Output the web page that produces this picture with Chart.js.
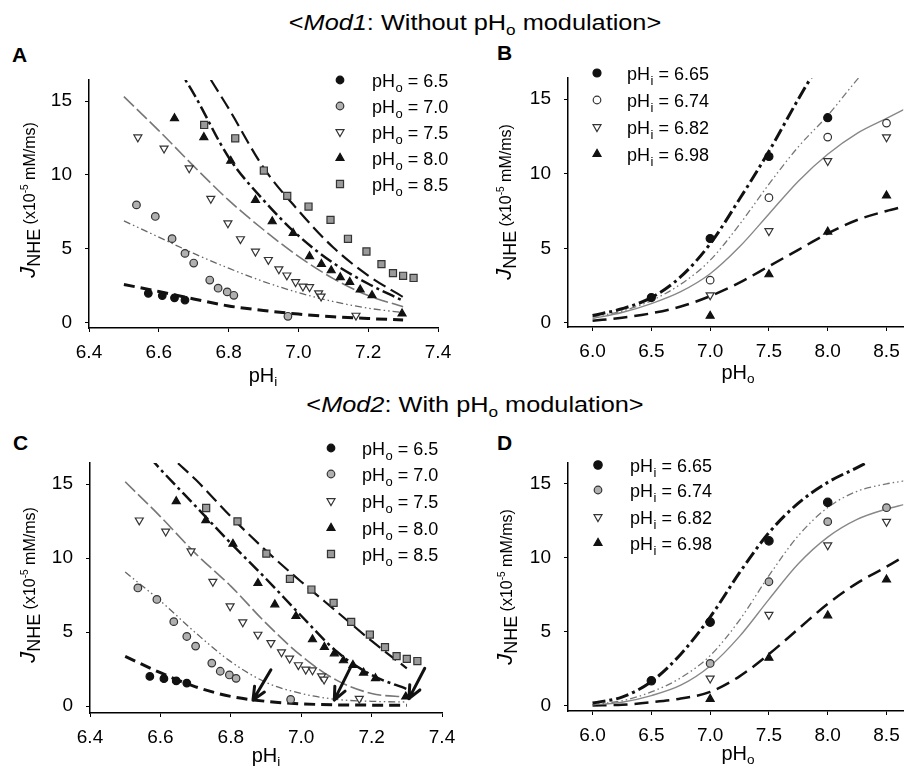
<!DOCTYPE html>
<html><head><meta charset="utf-8">
<script src="https://cdn.jsdelivr.net/npm/chart.js@4.4.1/dist/chart.umd.min.js"></script>
<style>
html,body{margin:0;padding:0;background:#fff;}
#wrap{position:relative;width:909px;height:770px;overflow:hidden;font-family:'Liberation Sans',Arial,sans-serif;color:#000;background:#fff;}
canvas{position:absolute;}
.t{position:absolute;white-space:nowrap;line-height:1;z-index:5;}
.title{font-size:22px;transform:translateX(-50%) scaleX(1.15);}
.s{font-size:0.68em;position:relative;top:0.32em;}
.xt{font-size:20px;transform:translateX(-50%);}
.lab{font-size:21px;font-weight:bold;}
.yt{transform:translate(-50%,-50%) rotate(-90deg);}
</style>
</head><body>
<div id="wrap">
<canvas id="cA" width="430" height="330" style="left:40px;top:60px"></canvas>
<canvas id="cB" width="394" height="330" style="left:515px;top:60px"></canvas>
<canvas id="cC" width="430" height="330" style="left:40px;top:440px"></canvas>
<canvas id="cD" width="394" height="330" style="left:515px;top:440px"></canvas>

<div class="t title" style="left:475px;top:12px">&lt;<i>Mod1</i>: Without pH<span class="s">o</span> modulation&gt;</div>
<div class="t title" style="left:475px;top:394px">&lt;<i>Mod2</i>: With pH<span class="s">o</span> modulation&gt;</div>

<div class="t lab" style="left:12px;top:44px">A</div>
<div class="t lab" style="left:497px;top:42px">B</div>
<div class="t lab" style="left:13px;top:432px">C</div>
<div class="t lab" style="left:497px;top:432px">D</div>

<div class="t xt" style="left:263px;top:365px">pH<span class="s">i</span></div>
<div class="t xt" style="left:738px;top:362px">pH<span class="s">o</span></div>
<div class="t xt" style="left:266px;top:745px">pH<span class="s">i</span></div>
<div class="t xt" style="left:738px;top:743px">pH<span class="s">o</span></div>

<div class="t yt" style="left:28px;top:200px"><i style="font-size:22px">J</i><span style="font-size:18px;position:relative;top:5px">NHE</span><span style="font-size:16px"> (x10<span style="font-size:10px;position:relative;top:-7px">-5</span> mM/ms)</span></div>
<div class="t yt" style="left:504px;top:202px"><i style="font-size:22px">J</i><span style="font-size:18px;position:relative;top:5px">NHE</span><span style="font-size:16px"> (x10<span style="font-size:10px;position:relative;top:-7px">-5</span> mM/ms)</span></div>
<div class="t yt" style="left:28px;top:585px"><i style="font-size:22px">J</i><span style="font-size:18px;position:relative;top:5px">NHE</span><span style="font-size:16px"> (x10<span style="font-size:10px;position:relative;top:-7px">-5</span> mM/ms)</span></div>
<div class="t yt" style="left:505px;top:587px"><i style="font-size:22px">J</i><span style="font-size:18px;position:relative;top:5px">NHE</span><span style="font-size:16px"> (x10<span style="font-size:10px;position:relative;top:-7px">-5</span> mM/ms)</span></div>
</div>

<script>
// ---------- tick labels ----------
const pHiTicks = [6.4, 6.6, 6.8, 7.0, 7.2, 7.4];
const pHoTicks = [6.0, 6.5, 7.0, 7.5, 8.0, 8.5];
const jTicks = [0, 5, 10, 15];

// ---------- legend categories ----------
const pHoLevels = ['6.5', '7.0', '7.5', '8.0', '8.5'];
const pHiLevels = ['6.65', '6.74', '6.82', '6.98'];

// ---------- measured J_NHE vs pHi at fixed pHo (panels A & C) ----------
const expPHo65 = [[6.57,2.0],[6.61,1.85],[6.645,1.7],[6.675,1.55]];
const expPHo70 = [[6.536,7.98],[6.59,7.2],[6.638,5.7],[6.675,4.7],[6.70,4.05],[6.746,2.9],[6.77,2.35],[6.796,2.1],[6.815,1.87],[6.97,0.45]];
const expPHo75 = [[6.54,12.55],[6.615,11.8],[6.687,10.46],[6.749,8.4],[6.798,6.75],[6.834,5.67],[6.877,4.83],[6.914,4.27],[6.944,3.64],[6.967,3.22],[6.992,2.77],[7.013,2.47],[7.032,2.43],[7.058,2.02],[7.065,1.8],[7.165,0.5]];
const expPHo80 = [[6.645,13.83],[6.729,12.55],[6.806,10.95],[6.877,8.3],[6.925,6.86],[6.985,6.07],[7.032,4.5],[7.066,3.98],[7.094,3.55],[7.12,3.08],[7.147,2.77],[7.177,2.25],[7.211,1.87],[7.297,0.63]];
const expPHo85 = [[6.73,13.38],[6.819,12.48],[6.901,10.3],[6.968,8.59],[7.029,7.87],[7.092,6.97],[7.142,5.69],[7.195,4.83],[7.238,3.98],[7.271,3.37],[7.30,3.19],[7.33,3.04]];

// ---------- measured J_NHE vs pHo at fixed pHi (panels B & D) ----------
const expPHi665 = [[6.5,1.7],[7.0,5.66],[7.5,11.15],[8.0,13.75]];
const expPHi674 = [[7.0,2.87],[7.5,8.39],[8.0,12.45],[8.5,13.39]];
const expPHi682 = [[7.0,1.86],[7.5,6.16],[8.0,10.86],[8.5,12.45]];
const expPHi698 = [[7.0,0.47],[7.5,3.25],[8.0,6.11],[8.5,8.53]];

// ---------- model curves, Mod1 (panel A) ----------
const fitA65 = [[6.5,2.6],[6.6,2.13],[6.7,1.62],[6.8,1.15],[6.9,0.85],[7.0,0.6],[7.1,0.42],[7.2,0.3],[7.3,0.2]];
const fitA70 = [[6.5,6.9],[6.6,5.8],[6.7,4.7],[6.8,3.7],[6.9,2.8],[7.0,2.05],[7.1,1.45],[7.2,1.0],[7.3,0.7]];
const fitA75 = [[6.5,15.3],[6.6,13.0],[6.7,10.6],[6.8,8.3],[6.9,6.3],[7.0,4.5],[7.1,3.0],[7.2,1.85],[7.3,1.1]];
const fitA80 = [[6.65,17.4],[6.7,15.5],[6.8,11.2],[6.9,8.3],[7.0,5.9],[7.1,4.05],[7.2,2.65],[7.3,1.5]];
const fitA85 = [[6.72,17.6],[6.75,16.4],[6.8,14.5],[6.9,10.5],[7.0,7.6],[7.1,5.1],[7.2,3.2],[7.3,1.75]];

// ---------- model curves, Mod1 (panel B) ----------
const fitB665 = [[6.0,0.5],[6.25,0.95],[6.5,1.7],[6.75,3.1],[7.0,5.3],[7.25,8.3],[7.5,11.5],[7.75,15.0],[7.9,17.0]];
const fitB674 = [[6.0,0.4],[6.25,0.8],[6.5,1.5],[6.75,2.6],[7.0,4.2],[7.25,6.6],[7.5,9.3],[7.75,11.8],[8.0,13.9],[8.25,16.3],[8.35,17.2]];
const fitB682 = [[6.0,0.3],[6.25,0.7],[6.5,1.3],[6.75,2.1],[7.0,3.3],[7.25,5.1],[7.5,7.3],[7.75,9.5],[8.0,11.3],[8.25,12.7],[8.5,13.7],[8.65,14.3]];
const fitB698 = [[6.0,0.15],[6.25,0.35],[6.5,0.65],[6.75,1.1],[7.0,1.8],[7.25,2.7],[7.5,3.8],[7.75,4.9],[8.0,6.0],[8.25,6.9],[8.5,7.5],[8.65,7.8]];

// ---------- model curves, Mod2 (panel C) ----------
const fitC65 = [[6.5,3.35],[6.6,2.25],[6.7,1.3],[6.8,0.65],[6.9,0.32],[7.0,0.15],[7.1,0.08],[7.2,0.06],[7.3,0.05]];
const fitC70 = [[6.5,9.05],[6.6,7.1],[6.7,4.95],[6.8,3.0],[6.9,1.6],[7.0,0.85],[7.1,0.45],[7.2,0.32],[7.3,0.27]];
const fitC75 = [[6.5,15.15],[6.6,12.8],[6.7,10.3],[6.8,8.1],[6.9,5.6],[7.0,3.4],[7.1,1.75],[7.2,0.85],[7.3,0.6]];
const fitC80 = [[6.57,16.8],[6.6,16.0],[6.7,13.5],[6.8,11.0],[6.9,8.6],[7.0,6.1],[7.1,3.7],[7.2,2.1],[7.3,1.15]];
const fitC85 = [[6.65,16.4],[6.7,15.3],[6.8,12.8],[6.9,10.5],[7.0,8.4],[7.1,6.4],[7.2,4.4],[7.3,2.55]];

// ---------- model curves, Mod2 (panel D) ----------
const fitD665 = [[6.0,0.2],[6.25,0.6],[6.5,1.65],[6.75,3.5],[7.0,6.0],[7.25,9.0],[7.5,11.7],[7.75,13.7],[8.0,15.1],[8.25,16.1],[8.4,16.7]];
const fitD674 = [[6.0,0.1],[6.25,0.35],[6.5,0.95],[6.75,1.9],[7.0,3.4],[7.25,5.8],[7.5,8.8],[7.75,11.5],[8.0,13.4],[8.25,14.5],[8.5,15.0],[8.65,15.2]];
const fitD682 = [[6.0,0.08],[6.25,0.25],[6.5,0.7],[6.75,1.4],[7.0,2.7],[7.25,4.7],[7.5,7.2],[7.75,9.6],[8.0,11.4],[8.25,12.6],[8.5,13.3],[8.65,13.6]];
const fitD698 = [[6.0,0.03],[6.25,0.08],[6.5,0.25],[6.75,0.5],[7.0,0.95],[7.25,2.0],[7.5,3.5],[7.75,5.2],[8.0,6.9],[8.25,8.3],[8.5,9.4],[8.65,10.1]];

// ---------- arrows in panel C (data units: pHi, J) ----------
const arrowTailsC = [[6.914,2.45],[7.143,2.75],[7.351,2.55]];
const arrowTipsC = [[6.863,0.4],[7.094,0.4],[7.306,0.5]];

// ================= styles =================
Chart.defaults.font.family = "'Liberation Sans', Arial, sans-serif";
Chart.defaults.color = '#000';

const markStylesO = [
  {pointStyle:'circle', rotation:0, radius:3.8, bg:'#111', border:'#111'},
  {pointStyle:'circle', rotation:0, radius:3.8, bg:'#b0b0b0', border:'#333'},
  {pointStyle:'triangle', rotation:180, radius:4.6, bg:'#fff', border:'#333'},
  {pointStyle:'triangle', rotation:0, radius:4.6, bg:'#111', border:'#111'},
  {pointStyle:'rect', rotation:0, radius:5, bg:'#9a9a9a', border:'#333'}
];
const marksB = [
  {pointStyle:'circle', rotation:0, radius:4, bg:'#111', border:'#111'},
  {pointStyle:'circle', rotation:0, radius:3.8, bg:'#fff', border:'#333'},
  {pointStyle:'triangle', rotation:180, radius:4.6, bg:'#fff', border:'#333'},
  {pointStyle:'triangle', rotation:0, radius:4.6, bg:'#111', border:'#111'}
];
const marksD = [
  {pointStyle:'circle', rotation:0, radius:4.2, bg:'#111', border:'#111'},
  {pointStyle:'circle', rotation:0, radius:3.8, bg:'#b0b0b0', border:'#333'},
  {pointStyle:'triangle', rotation:180, radius:4.6, bg:'#fff', border:'#333'},
  {pointStyle:'triangle', rotation:0, radius:4.6, bg:'#111', border:'#111'}
];
const lineStylesO = [
  {color:'#111', width:3, dash:[11,6]},
  {color:'#666', width:1.3, dash:[7,3,1.5,3,1.5,3]},
  {color:'#777', width:1.6, dash:[14,4]},
  {color:'#111', width:2.5, dash:[13,4,3,4]},
  {color:'#111', width:2.2, dash:[14,6]}
];
const lineStylesI = [
  {color:'#111', width:3, dash:[13,4,3,4]},
  {color:'#777', width:1.3, dash:[7,3,1.5,3,1.5,3]},
  {color:'#888', width:1.4, dash:[]},
  {color:'#111', width:2.5, dash:[14,7]}
];

// ================= plugins =================
const legendPlugin = {
  id: 'panelLegend',
  afterDraw(chart, args, o) {
    if (!o || !o.items) return;
    const ctx = chart.ctx;
    ctx.save();
    o.items.forEach((it, i) => {
      const y = o.rows[i];
      const m = it.mark;
      ctx.fillStyle = m.bg; ctx.strokeStyle = m.border; ctx.lineWidth = 1.2;
      Chart.helpers.drawPoint(ctx, {pointStyle:m.pointStyle, rotation:m.rotation, radius:m.radius, borderWidth:1.2}, o.markerX, y);
      let x = o.textX;
      const base = y + 6.5;
      ctx.fillStyle = '#000';
      ctx.textBaseline = 'alphabetic'; ctx.textAlign = 'left';
      ctx.font = "18px 'Liberation Sans', Arial, sans-serif";
      ctx.fillText('pH', x, base); x += ctx.measureText('pH').width;
      ctx.font = "13px 'Liberation Sans', Arial, sans-serif";
      ctx.fillText(o.sub, x + 0.5, base + 5); x += ctx.measureText(o.sub).width + 0.5;
      ctx.font = "18px 'Liberation Sans', Arial, sans-serif";
      ctx.fillText(' = ' + it.label, x, base);
    });
    ctx.restore();
  }
};
const arrowPlugin = {
  id: 'arrows',
  afterDatasetsDraw(chart, args, o) {
    if (!o || !o.tails) return;
    const ctx = chart.ctx, xs = chart.scales.x, ys = chart.scales.y;
    ctx.save();
    ctx.strokeStyle = '#111'; ctx.lineWidth = 3; ctx.lineCap = 'round'; ctx.lineJoin = 'round';
    o.tails.forEach((t, i) => {
      const tip = o.tips[i];
      const x0 = xs.getPixelForValue(t[0]), y0 = ys.getPixelForValue(t[1]);
      const x1 = xs.getPixelForValue(tip[0]), y1 = ys.getPixelForValue(tip[1]);
      const a = Math.atan2(y1 - y0, x1 - x0), L = 14, w = 0.42;
      ctx.beginPath();
      ctx.moveTo(x0, y0); ctx.lineTo(x1, y1);
      ctx.moveTo(x1 - L * Math.cos(a - w), y1 - L * Math.sin(a - w));
      ctx.lineTo(x1, y1);
      ctx.lineTo(x1 - L * Math.cos(a + w), y1 - L * Math.sin(a + w));
      ctx.stroke();
    });
    ctx.restore();
  }
};

// ================= panel builder =================
function toXY(arr) { return arr.map(p => ({x: p[0], y: p[1]})); }

function makePanel(cfg) {
  const b = cfg.box, a = cfg.area;
  const datasets = [];
  cfg.exps.forEach((e, i) => {
    const m = cfg.marks[i];
    datasets.push({
      data: toXY(e), showLine: false, order: 1,
      pointStyle: m.pointStyle, pointRotation: m.rotation, pointRadius: m.radius,
      pointBackgroundColor: m.bg, pointBorderColor: m.border, pointBorderWidth: 1.2
    });
  });
  cfg.fits.forEach((f, i) => {
    const s = cfg.lines[i];
    datasets.push({
      data: toXY(f), showLine: true, order: 2, pointRadius: 0,
      borderColor: s.color, borderWidth: s.width, borderDash: s.dash,
      cubicInterpolationMode: 'monotone', fill: false
    });
  });
  new Chart(document.getElementById(cfg.id), {
    type: 'scatter',
    data: { datasets },
    plugins: [legendPlugin, arrowPlugin],
    options: {
      responsive: false, animation: false, devicePixelRatio: 1, events: [],
      layout: { padding: { top: a.t - b.y, right: b.x + b.w - a.r, left: 0, bottom: 0 } },
      plugins: {
        legend: { display: false }, tooltip: { enabled: false },
        panelLegend: {
          items: cfg.legendLabels.map((l, i) => ({label: l, mark: cfg.marks[i]})),
          sub: cfg.sub,
          markerX: cfg.leg.mx - b.x, textX: cfg.leg.tx - b.x,
          rows: cfg.leg.rows.map(r => r - b.y)
        },
        arrows: cfg.arrows || {}
      },
      scales: {
        x: {
          type: 'linear', min: cfg.xr[0], max: cfg.xr[1],
          afterBuildTicks: s => { s.ticks = cfg.xTicks.map(v => ({value: v})); },
          afterFit: s => { s.height = b.y + b.h - a.b; s.paddingLeft = 0; s.paddingRight = 0; },
          ticks: { callback: v => Number(v).toFixed(1), padding: 9, font: {size: 19}, color: '#000', autoSkip: false, maxRotation: 0 },
          grid: { drawOnChartArea: false, drawTicks: true, tickLength: 4, color: '#000', lineWidth: 1 },
          border: { display: true, color: '#000', width: 1.5 }
        },
        y: {
          type: 'linear', min: cfg.yr[0], max: cfg.yr[1],
          afterBuildTicks: s => { s.ticks = jTicks.map(v => ({value: v})); },
          afterFit: s => { s.width = a.l - b.x; s.paddingTop = 0; s.paddingBottom = 0; },
          ticks: { callback: v => String(v), padding: 13, font: {size: 19}, color: '#000' },
          grid: { drawOnChartArea: false, drawTicks: true, tickLength: 4, color: '#000', lineWidth: 1 },
          border: { display: true, color: '#000', width: 1.5 }
        }
      }
    }
  });
}

makePanel({
  id: 'cA', box: {x:40, y:60, w:430, h:330}, area: {l:89, t:80, r:438, b:328},
  xr: [6.4, 7.4], yr: [-0.34, 16.42], xTicks: pHiTicks,
  exps: [expPHo65, expPHo70, expPHo75, expPHo80, expPHo85],
  fits: [fitA65, fitA70, fitA75, fitA80, fitA85],
  marks: markStylesO, lines: lineStylesO, legendLabels: pHoLevels, sub: 'o',
  leg: {mx: 340, tx: 372, rows: [80, 106, 132, 158, 184]}
});
makePanel({
  id: 'cB', box: {x:515, y:60, w:394, h:330}, area: {l:568, t:78, r:909, b:327},
  xr: [5.791, 8.642], yr: [-0.27, 16.41], xTicks: pHoTicks,
  exps: [expPHi665, expPHi674, expPHi682, expPHi698],
  fits: [fitB665, fitB674, fitB682, fitB698],
  marks: marksB, lines: lineStylesI, legendLabels: pHiLevels, sub: 'i',
  leg: {mx: 597, tx: 627, rows: [73, 100, 127, 154]}
});
makePanel({
  id: 'cC', box: {x:40, y:440, w:430, h:330}, area: {l:90, t:463, r:442, b:713},
  xr: [6.4, 7.4], yr: [-0.47, 16.42], xTicks: pHiTicks,
  exps: [expPHo65, expPHo70, expPHo75, expPHo80, expPHo85],
  fits: [fitC65, fitC70, fitC75, fitC80, fitC85],
  marks: markStylesO, lines: lineStylesO, legendLabels: pHoLevels, sub: 'o',
  leg: {mx: 331, tx: 362, rows: [448, 474, 501, 528, 554]},
  arrows: {tails: arrowTailsC, tips: arrowTipsC}
});
makePanel({
  id: 'cD', box: {x:515, y:440, w:394, h:330}, area: {l:568, t:463, r:909, b:711},
  xr: [5.791, 8.642], yr: [-0.34, 16.41], xTicks: pHoTicks,
  exps: [expPHi665, expPHi674, expPHi682, expPHi698],
  fits: [fitD665, fitD674, fitD682, fitD698],
  marks: marksD, lines: lineStylesI, legendLabels: pHiLevels, sub: 'i',
  leg: {mx: 598, tx: 630, rows: [465, 490, 517, 543]}
});
</script>
</body></html>
